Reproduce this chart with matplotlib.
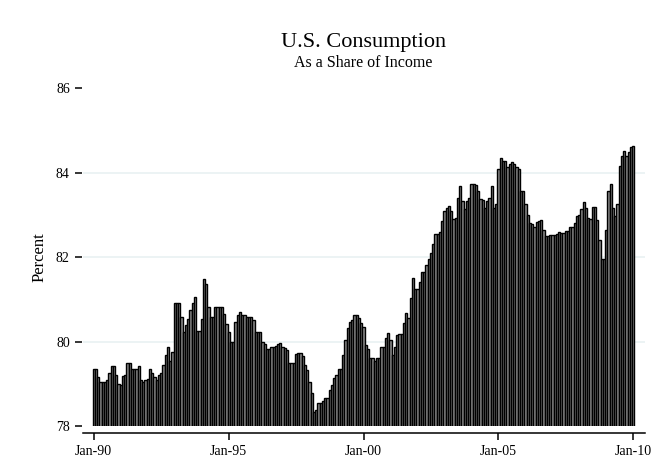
import numpy as np
import pandas as pd
import matplotlib
matplotlib.use('Agg')
import matplotlib.pyplot as plt

# consumption as a share of income, monthly, Jan 1990 - Jan 2010
share = [
	79.35, 79.35, 79.15, 79.03, 79.03, 79.03, 79.10, 79.25, 79.43, 79.43, 79.20, 79.00,  # 1990
	78.97, 79.18, 79.20, 79.50, 79.50, 79.35, 79.35, 79.35, 79.42, 79.10, 79.05, 79.10,  # 1991
	79.12, 79.35, 79.25, 79.15, 79.10, 79.20, 79.25, 79.45, 79.68, 79.88, 79.55, 79.76,  # 1992
	80.90, 80.90, 80.90, 80.58, 80.22, 80.38, 80.54, 80.74, 80.90, 81.06, 80.26, 80.26,  # 1993
	80.54, 81.49, 81.37, 80.82, 80.58, 80.58, 80.82, 80.82, 80.82, 80.82, 80.66, 80.42,  # 1994
	80.22, 80.00, 80.00, 80.46, 80.62, 80.70, 80.62, 80.62, 80.58, 80.58, 80.58, 80.50,  # 1995
	80.22, 80.22, 80.22, 80.00, 79.95, 79.83, 79.83, 79.88, 79.88, 79.90, 79.95, 79.96,  # 1996
	79.88, 79.85, 79.80, 79.49, 79.49, 79.49, 79.70, 79.72, 79.72, 79.65, 79.45, 79.33,  # 1997
	79.05, 78.78, 78.34, 78.38, 78.54, 78.54, 78.58, 78.66, 78.66, 78.86, 78.97, 79.13,  # 1998
	79.21, 79.35, 79.35, 79.68, 80.04, 80.33, 80.47, 80.51, 80.63, 80.63, 80.55, 80.43,  # 1999
	80.35, 79.92, 79.83, 79.60, 79.60, 79.53, 79.62, 79.62, 79.86, 79.86, 80.09, 80.20,  # 2000
	80.04, 79.68, 79.86, 80.16, 80.17, 80.17, 80.43, 80.67, 80.55, 81.03, 81.51, 81.25,  # 2001
	81.25, 81.42, 81.64, 81.64, 81.81, 81.95, 82.10, 82.30, 82.55, 82.55, 82.60, 82.85,  # 2002
	83.10, 83.15, 83.20, 83.09, 82.91, 82.93, 83.40, 83.68, 83.33, 83.13, 83.33, 83.40,  # 2003
	83.72, 83.72, 83.71, 83.56, 83.37, 83.34, 83.15, 83.33, 83.40, 83.68, 83.15, 83.25,  # 2004
	84.08, 84.34, 84.28, 84.28, 84.13, 84.21, 84.24, 84.21, 84.12, 84.08, 83.56, 83.56,  # 2005
	83.25, 82.99, 82.81, 82.79, 82.71, 82.83, 82.85, 82.87, 82.65, 82.49, 82.49, 82.51,  # 2006
	82.51, 82.51, 82.55, 82.60, 82.57, 82.57, 82.61, 82.61, 82.71, 82.71, 82.81, 82.97,  # 2007
	82.99, 83.14, 83.29, 83.15, 82.93, 82.89, 83.18, 83.18, 82.87, 82.41, 81.96, 81.96,  # 2008
	82.65, 83.56, 83.72, 83.15, 82.97, 83.25, 84.16, 84.40, 84.50, 84.40, 84.48, 84.60,  # 2009
	84.62,  # 2010
]
months = pd.date_range('1990-01-01', periods=len(share), freq='MS')
tick_dates = ['1990-01-01', '1995-01-01', '2000-01-01', '2005-01-01', '2010-01-01']
tick_labels = ['Jan-90', 'Jan-95', 'Jan-00', 'Jan-05', 'Jan-10']
y_ticks = [78, 80, 82, 84, 86]
grid_lines = [80, 82, 84]

plt.rcParams['font.family'] = ['Liberation Serif', 'DejaVu Serif']

fig = plt.figure(figsize=(6.68, 4.65), dpi=100)
ax = fig.add_axes([83/668, 39/465, 562/668, 338/465])

x = np.arange(len(share))
ax.bar(x, share, width=1.0, color='#8a8a8a', edgecolor='black', linewidth=1.0, zorder=2)

for g in grid_lines:
	ax.axhline(g, color='#e9f1f2', linewidth=1.2, zorder=0)

ax.set_ylim(78, 86)
ax.set_xlim(-4.8, 245.2)
ax.set_yticks(y_ticks)
ax.set_yticklabels([str(v) for v in y_ticks], fontsize=12)
tick_pos = [months.get_loc(pd.Timestamp(d)) for d in tick_dates]
ax.set_xticks(tick_pos)
ax.set_xticklabels(tick_labels, fontsize=12.5)

for s in ['top', 'right', 'left']:
	ax.spines[s].set_visible(False)
ax.spines['left'].set_position(('outward', 1))
ax.spines['bottom'].set_position(('outward', 5))
ax.spines['bottom'].set_linewidth(1.1)
ax.tick_params(axis='both', length=5, width=1.1, color='black', pad=3.5)

ax.set_ylabel('Percent', fontsize=12, labelpad=6)
fig.text(0.544, 0.908, 'U.S. Consumption', ha='center', va='center', fontsize=16)
fig.text(0.544, 0.864, 'As a Share of Income', ha='center', va='center', fontsize=11.5)

plt.savefig('out.png', dpi=100)
